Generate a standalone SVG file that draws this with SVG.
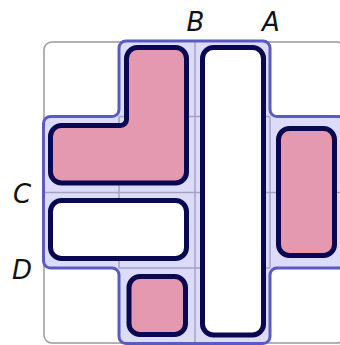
<svg xmlns="http://www.w3.org/2000/svg" width="340" height="345" viewBox="0 0 340 345">
<style>
.frame{fill:#fff;stroke:#999;stroke-width:1.5}
.region{fill:#dcdcfa;stroke:none}
.outline{fill:none;stroke:#5a5ac0;stroke-width:3}
.grid{stroke:#a4a4bc;stroke-width:1.5;fill:none}
.piece{stroke:#0a0850;stroke-width:5;stroke-linejoin:round}
.pink{fill:#e599b0}
.white{fill:#fff}
.lbl{font-family:"DejaVu Sans",sans-serif;font-style:italic;font-size:26px;fill:#111;text-anchor:middle}
</style>
<rect class="frame" x="44" y="42" width="301" height="301" rx="8"/>
<g id="board">
<path class="region" d="M126,41 H263 A7 7 0 0 1 270,48 V109.5 A7 7 0 0 0 277,116.5 H338.5 A7 7 0 0 1 345.5,123.5 V261 A7 7 0 0 1 338.5,268 H277 A7 7 0 0 0 270,275 V336.5 A7 7 0 0 1 263,343.5 H126 A7 7 0 0 1 119,336.5 V275 A7 7 0 0 0 112,268 H50.5 A7 7 0 0 1 43.5,261 V123.5 A7 7 0 0 1 50.5,116.5 H112 A7 7 0 0 0 119,109.5 V48 A7 7 0 0 1 126,41 Z"/>
<g class="grid">
<line x1="119" y1="116.5" x2="119" y2="268"/>
<line x1="195" y1="41" x2="195" y2="343.5"/>
<line x1="270" y1="116.5" x2="270" y2="268"/>
<line x1="119" y1="116.5" x2="270" y2="116.5"/>
<line x1="43.5" y1="192.5" x2="345.5" y2="192.5"/>
<line x1="119" y1="268" x2="270" y2="268"/>
</g>
<path class="outline" d="M126,41 H263 A7 7 0 0 1 270,48 V109.5 A7 7 0 0 0 277,116.5 H338.5 A7 7 0 0 1 345.5,123.5 V261 A7 7 0 0 1 338.5,268 H277 A7 7 0 0 0 270,275 V336.5 A7 7 0 0 1 263,343.5 H126 A7 7 0 0 1 119,336.5 V275 A7 7 0 0 0 112,268 H50.5 A7 7 0 0 1 43.5,261 V123.5 A7 7 0 0 1 50.5,116.5 H112 A7 7 0 0 0 119,109.5 V48 A7 7 0 0 1 126,41 Z"/>
</g>
<g id="pieceL"><path class="piece pink" d="M137.5,47.5 H175.5 A11 11 0 0 1 186.5,58.5 V172 A11 11 0 0 1 175.5,183 H61.5 A11 11 0 0 1 50.5,172 V136.5 A11 11 0 0 1 61.5,125.5 H120.5 A6 6 0 0 0 126.5,119.5 V58.5 A11 11 0 0 1 137.5,47.5 Z"/></g>
<g id="pieceTall"><rect class="piece white" x="202.5" y="47.5" width="61" height="287.5" rx="11"/></g>
<g id="pieceRight"><rect class="piece pink" x="278.5" y="128.5" width="56" height="127" rx="11"/></g>
<g id="pieceBar"><rect class="piece white" x="50.5" y="200.5" width="136" height="58" rx="11"/></g>
<g id="pieceSmall"><rect class="piece pink" x="129" y="276.5" width="56.5" height="58" rx="11"/></g>
<g id="labels">
<text class="lbl" x="195.5" y="31">B</text>
<text class="lbl" x="271" y="31">A</text>
<text class="lbl" x="22" y="203">C</text>
<text class="lbl" x="22" y="279">D</text>
</g>
</svg>
